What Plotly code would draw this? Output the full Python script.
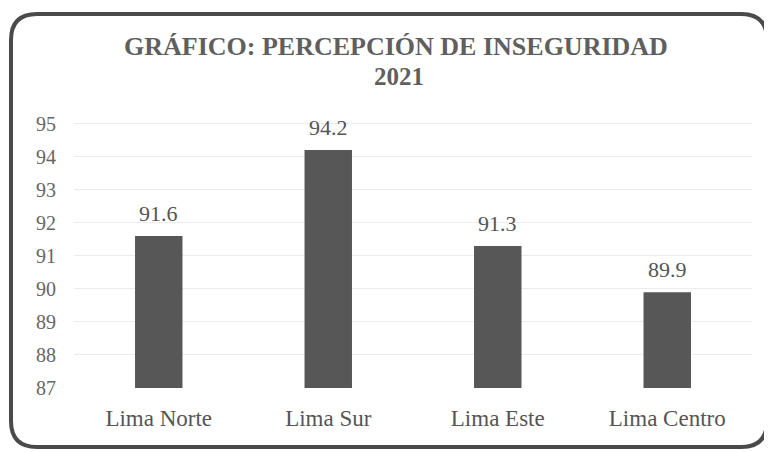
import plotly.graph_objects as go

categories = ["Lima Norte", "Lima Sur", "Lima Este", "Lima Centro"]
values = [91.6, 94.2, 91.3, 89.9]
value_labels = ["91.6", "94.2", "91.3", "89.9"]
tick_vals = [87, 88, 89, 90, 91, 92, 93, 94, 95]

SERIF = "Liberation Serif, Times New Roman, DejaVu Serif, serif"
OFF = 8                       # page body margin offset
W, H = 772 - OFF, 452 - OFF
# plot area in reference pixel coords: x 74..752, y 117..388
L, R = 74 - OFF, 772 - 752
T, B = 117 - OFF, 452 - 388
pw, ph = W - L - R, H - T - B

def px(x):
    return (x - OFF - L) / pw

def py(y):
    return (H - B - (y - OFF)) / ph

def rounded_rect(x0, y0, x1, y1, r):
    return (f"M {px(x0+r)},{py(y0)} L {px(x1-r)},{py(y0)} "
            f"Q {px(x1)},{py(y0)} {px(x1)},{py(y0+r)} "
            f"L {px(x1)},{py(y1-r)} Q {px(x1)},{py(y1)} {px(x1-r)},{py(y1)} "
            f"L {px(x0+r)},{py(y1)} Q {px(x0)},{py(y1)} {px(x0)},{py(y1-r)} "
            f"L {px(x0)},{py(y0+r)} Q {px(x0)},{py(y0)} {px(x0+r)},{py(y0)} Z")

fig = go.Figure()
fig.add_trace(go.Bar(
    x=categories, y=values,
    marker=dict(color="#575757", line=dict(width=0)),
    width=0.28,
))

for c, v, t in zip(categories, values, value_labels):
    fig.add_annotation(x=c, y=v, text=t, showarrow=False, yanchor="bottom",
                       yshift=8, font=dict(family=SERIF, size=22, color="#555555"))

fig.add_annotation(xref="paper", yref="paper", x=px(396), y=py(47),
                   text="<b>GRÁFICO: PERCEPCIÓN DE INSEGURIDAD</b>",
                   showarrow=False, xanchor="center", yanchor="middle",
                   font=dict(family=SERIF, size=26, color="#5f5f5f"))
fig.add_annotation(xref="paper", yref="paper", x=px(399), y=py(76),
                   text="<b>2021</b>",
                   showarrow=False, xanchor="center", yanchor="middle",
                   font=dict(family=SERIF, size=25, color="#5f5f5f"))

fig.update_layout(
    width=W, height=H,
    margin=dict(l=L, r=R, t=T, b=B),
    paper_bgcolor="white", plot_bgcolor="white",
    showlegend=False,
    font=dict(family=SERIF, color="#555555"),
    xaxis=dict(showgrid=False, showline=False, ticks="",
               tickfont=dict(family=SERIF, size=23, color="#555555"),
               ticklabelstandoff=14),
    yaxis=dict(range=[87, 95.2], tickvals=tick_vals, showgrid=True,
               gridcolor="#ececec", zeroline=False, showline=False,
               tickfont=dict(family=SERIF, size=20, color="#666666"),
               ticklabelstandoff=17),
    shapes=[dict(type="path", xref="paper", yref="paper",
                 path=rounded_rect(11, 14, 767, 447, 26),
                 line=dict(color="#4a4a4a", width=4), layer="above")],
)

fig.write_html("out.html")
